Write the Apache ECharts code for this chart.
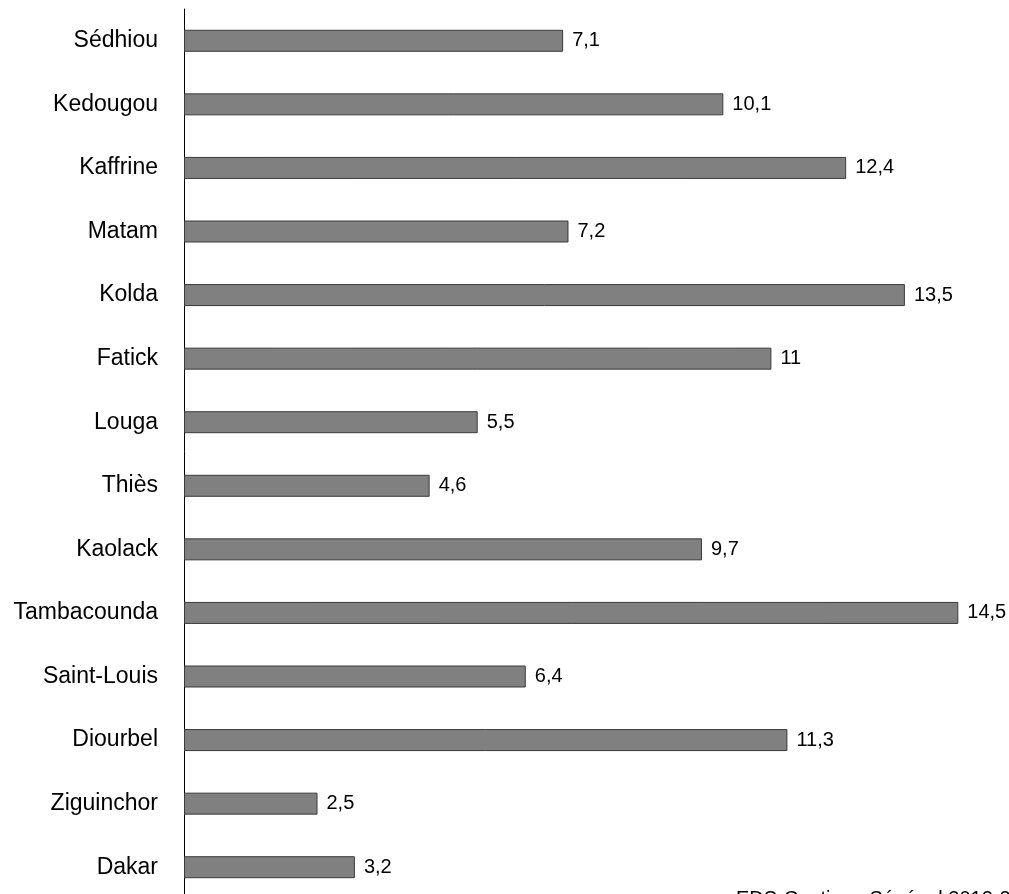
<!DOCTYPE html>
<html>
<head>
<meta charset="utf-8">
<script src="https://cdn.jsdelivr.net/npm/echarts@6/dist/echarts.min.js"></script>
<style>
  html, body { margin: 0; padding: 0; background: #ffffff; }
  #chart { width: 1009px; height: 894px; }
</style>
</head>
<body>
<div id="chart"></div>
<script>
// Regions, listed top to bottom as displayed
const regions = [
  'Sédhiou', 'Kedougou', 'Kaffrine', 'Matam', 'Kolda', 'Fatick', 'Louga',
  'Thiès', 'Kaolack', 'Tambacounda', 'Saint-Louis', 'Diourbel', 'Ziguinchor', 'Dakar'
];
const values = [7.1, 10.1, 12.4, 7.2, 13.5, 11, 5.5, 4.6, 9.7, 14.5, 6.4, 11.3, 2.5, 3.2];
const sourceNote = 'EDS-Continue Sénégal 2012-2013';

const FONT = '"Liberation Sans", Arial, Helvetica, sans-serif';

const chart = echarts.init(document.getElementById('chart'), null, { renderer: 'canvas' });

chart.setOption({
  animation: false,
  backgroundColor: '#ffffff',
  // the plot runs a little past the bottom edge of the page
  grid: { left: 184, top: 9, width: 801, height: 890, containLabel: false, outerBoundsMode: 'none' },
  xAxis: {
    type: 'value',
    min: 0,
    max: 15,
    show: false
  },
  yAxis: {
    type: 'category',
    data: regions,
    inverse: true,
    axisLine: { show: true, lineStyle: { color: '#000000', width: 1 } },
    axisTick: { show: false },
    splitLine: { show: false },
    axisLabel: {
      margin: 26,
      color: '#000000',
      fontFamily: FONT,
      fontSize: 23
    }
  },
  series: [{
    type: 'bar',
    data: values,
    barWidth: 22,
    itemStyle: { color: '#808080', borderColor: '#3a3a3a', borderWidth: 1 },
    label: {
      show: true,
      position: 'right',
      distance: 9,
      color: '#000000',
      fontFamily: FONT,
      fontSize: 20,
      formatter: p => String(p.value).replace('.', ',')
    }
  }],
  graphic: [{
    type: 'text',
    left: 736,
    top: 889,
    style: { text: sourceNote, fill: '#000000', font: '20px ' + FONT }
  }]
});
</script>
</body>
</html>
